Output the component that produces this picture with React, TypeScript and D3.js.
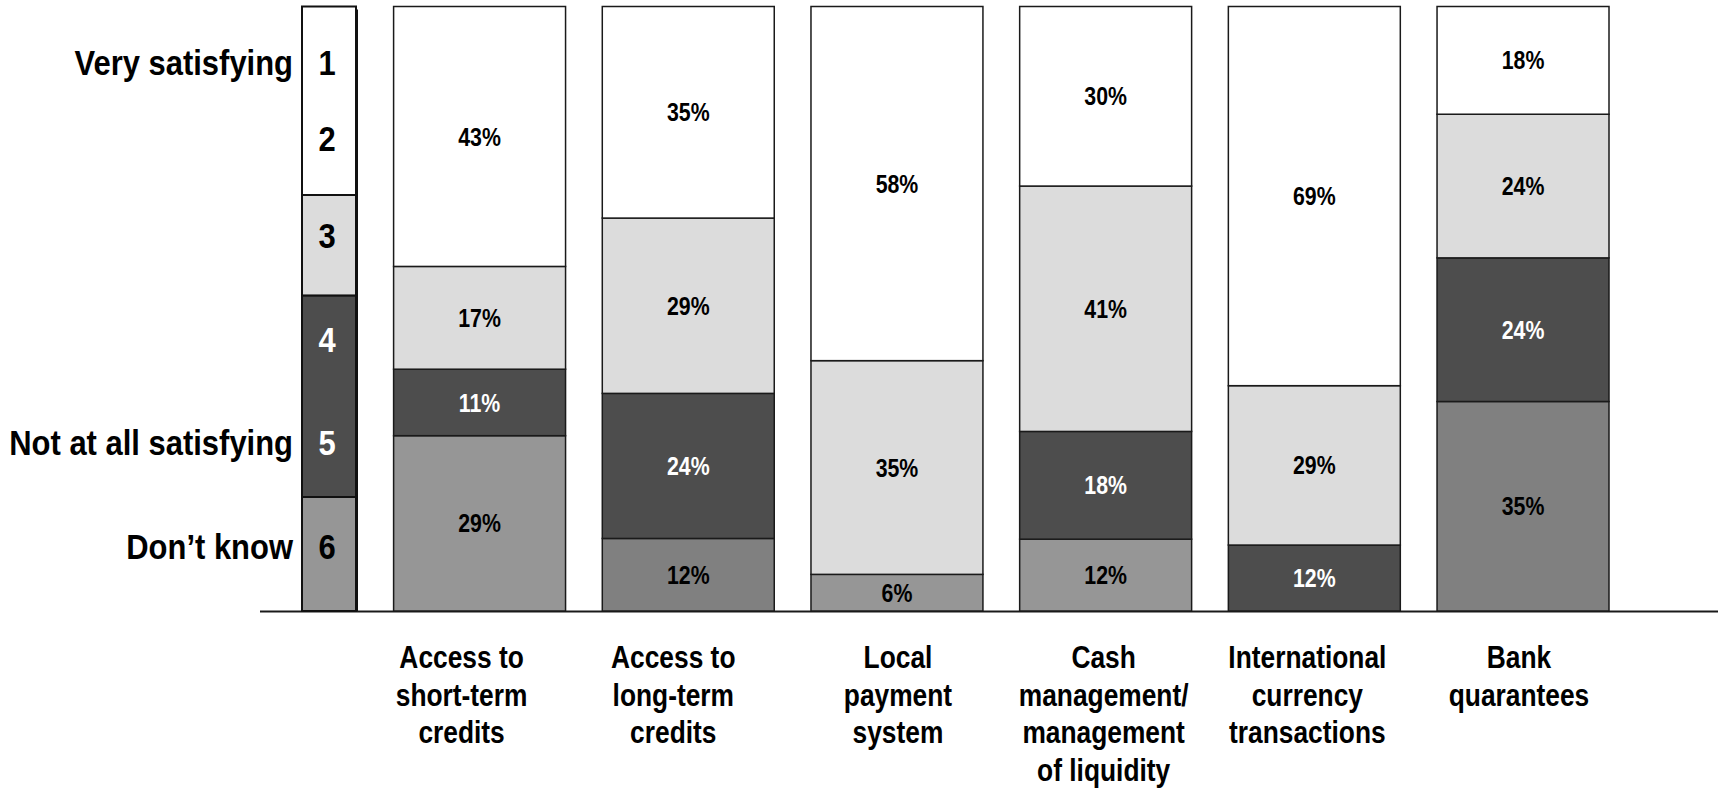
import { useMemo } from "react";
import * as d3 from "d3";

// categories along the x axis, each label split into lines
const categories = [
  "Access to short-term credits",
  "Access to long-term credits",
  "Local payment system",
  "Cash management",
  "International currency transactions",
  "Bank quarantees",
];
const categoryLines = [
  ["Access to", "short-term", "credits"],
  ["Access to", "long-term", "credits"],
  ["Local", "payment", "system"],
  ["Cash", "management/", "management", "of liquidity"],
  ["International", "currency", "transactions"],
  ["Bank", "quarantees"],
];

// answer groups, stacked from the top of the bar down
const groups = ["satisfying", "medium", "unsatisfying", "dontKnow"];

// shares in %, one value per category
const satisfying = [43, 35, 58, 30, 69, 18];
const medium = [17, 29, 35, 41, 29, 24];
const unsatisfying = [11, 24, 0, 18, 12, 24];
const dontKnow = [29, 12, 6, 12, 0, 35];

// legend scale on the left
const legendNumbers = [1, 2, 3, 4, 5, 6];
const legendBlocks = [
  { group: "satisfying", from: 0, to: 2 },
  { group: "medium", from: 2, to: 3 },
  { group: "unsatisfying", from: 3, to: 5 },
  { group: "dontKnow", from: 5, to: 6 },
];
const sideLabels = [
  { text: "Very satisfying", level: 1 },
  { text: "Not at all satisfying", level: 5 },
  { text: "Don\u2019t know", level: 6 },
];

// styles
const fills: Record<string, string> = {
  satisfying: "#ffffff",
  medium: "#dcdcdc",
  unsatisfying: "#4d4d4d",
  dontKnow: "#969696",
};
const dontKnowFill = ["#969696", "#808080", "#969696", "#969696", "#969696", "#808080"];
const labelShift = [-18, -15, 1, -2, -7, -4];

const W = 1718;
const H = 790;
const FONT = "'Liberation Sans', Arial, sans-serif";

export default function App() {
  const rows = useMemo(
    () =>
      categories.map((c, i) => ({
        category: c,
        satisfying: satisfying[i],
        medium: medium[i],
        unsatisfying: unsatisfying[i],
        dontKnow: dontKnow[i],
      })),
    []
  );

  // d3.stack builds from 0 upward, so the bottom group goes first
  const series = useMemo(
    () =>
      d3
        .stack<any>()
        .keys([...groups].reverse())
        .offset(d3.stackOffsetExpand)(rows),
    [rows]
  );

  const x = d3.scaleBand<string>().domain(categories).range([393.6, 1609]).paddingInner(0.176).paddingOuter(0);
  const y = d3.scaleLinear().domain([0, 1]).range([611, 6.5]);
  // legend blocks (slots 0..6, top to bottom)
  const ly = d3.scaleLinear().domain([0, 2, 5, 6]).range([6.5, 195, 497, 611]);
  // baselines of the legend numbers
  const ny = d3.scaleLinear().domain([1, 2, 3, 6]).range([75, 151, 248, 559]);

  const legendX = 302;
  const legendW = 54;

  const fillFor = (key: string, i: number) => (key === "dontKnow" ? dontKnowFill[i] : fills[key]);
  // Liberation Sans squeezed horizontally to look like Arial Narrow
  const narrow = (tx: number, ty: number, k = 0.82) => `translate(${tx},${ty}) scale(${k},1)`;
  const mid = (i: number) => (x(categories[i]) as number) + x.bandwidth() / 2;

  return (
    <svg
      width={W}
      height={H}
      style={{ position: "absolute", left: 0, top: 0, background: "#fff" }}
      fontFamily={FONT}
      fontWeight="bold"
    >
      {/* baseline */}
      <line x1={260} x2={W} y1={y(0) + 0.5} y2={y(0) + 0.5} stroke="#1a1a1a" strokeWidth={2} />

      {/* legend column */}
      <g>
        {legendBlocks.map((b) => (
          <rect
            key={b.group}
            x={legendX}
            y={ly(b.from)}
            width={legendW}
            height={ly(b.to) - ly(b.from)}
            fill={fills[b.group]}
            stroke="#111"
            strokeWidth={2}
          />
        ))}
        <line
          x1={legendX + legendW + 1}
          x2={legendX + legendW + 1}
          y1={ly(0) + 3}
          y2={ly(6)}
          stroke="#111"
          strokeWidth={2}
        />
        {legendNumbers.map((n) => (
          <text
            key={n}
            transform={narrow(legendX + legendW / 2 - 2, ny(n), 0.86)}
            textAnchor="middle"
            fontSize={36}
            fill={n === 4 || n === 5 ? "#fff" : "#000"}
          >
            {n}
          </text>
        ))}
        {sideLabels.map((s) => (
          <text key={s.text} transform={narrow(293, ny(s.level), 0.86)} textAnchor="end" fontSize={36} fill="#000">
            {s.text}
          </text>
        ))}
      </g>

      {/* stacked bars */}
      {series.map((s) => (
        <g key={s.key}>
          {s.map((d, i) =>
            d[1] - d[0] > 0 ? (
              <rect
                key={i}
                x={x(categories[i])}
                y={y(d[1])}
                width={x.bandwidth()}
                height={y(d[0]) - y(d[1])}
                fill={fillFor(s.key, i)}
                stroke="#1a1a1a"
                strokeWidth={1.5}
              />
            ) : null
          )}
        </g>
      ))}

      {/* value labels */}
      {series.map((s) => (
        <g key={"t" + s.key}>
          {s.map((d, i) => {
            const v = (d.data as any)[s.key] as number;
            if (!v) return null;
            return (
              <text
                key={i}
                transform={narrow(mid(i), (y(d[0]) + y(d[1])) / 2)}
                dy="0.35em"
                textAnchor="middle"
                fontSize={26}
                fill={s.key === "unsatisfying" ? "#fff" : "#000"}
              >
                {v}%
              </text>
            );
          })}
        </g>
      ))}

      {/* category labels */}
      {categoryLines.map((lines, i) => (
        <text key={i} transform={narrow(mid(i) + labelShift[i], 668, 0.85)} textAnchor="middle" fontSize={31} fill="#000">
          {lines.map((l, j) => (
            <tspan key={j} x={0} dy={j === 0 ? 0 : 37.6}>
              {l}
            </tspan>
          ))}
        </text>
      ))}
    </svg>
  );
}
